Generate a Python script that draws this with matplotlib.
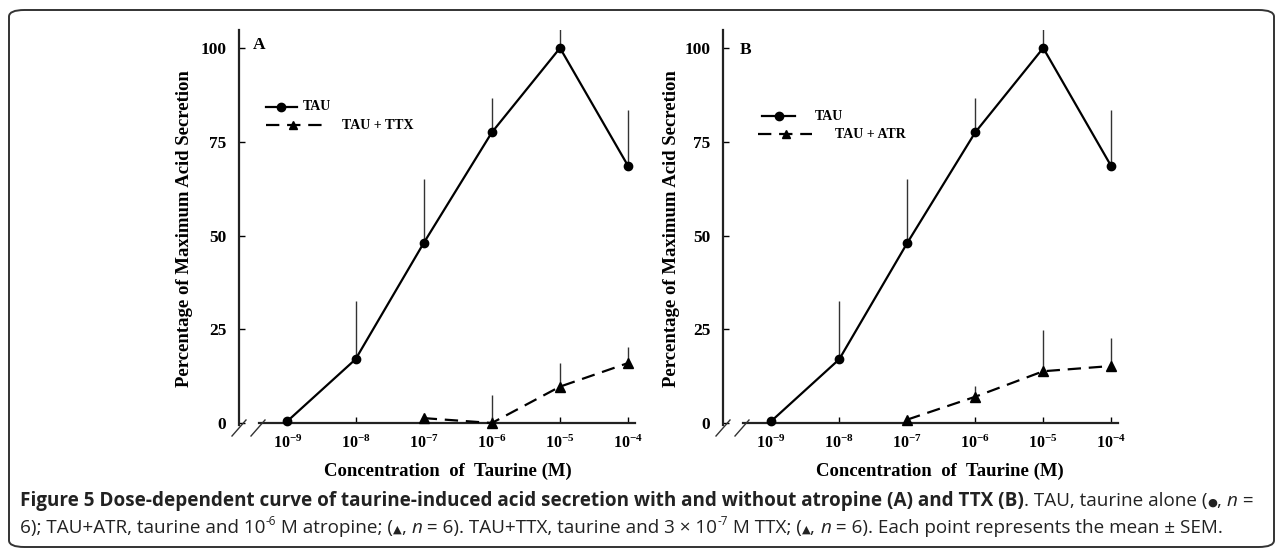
import matplotlib
matplotlib.use('Agg')
import matplotlib.pyplot as plt
import numpy as np
from matplotlib.lines import Line2D
from matplotlib.patches import FancyBboxPatch

# data
conc = [1e-9, 1e-8, 1e-7, 1e-6, 1e-5, 1e-4]
tick_labels = [r'$\mathbf{10^{-9}}$', r'$\mathbf{10^{-8}}$', r'$\mathbf{10^{-7}}$',
               r'$\mathbf{10^{-6}}$', r'$\mathbf{10^{-5}}$', r'$\mathbf{10^{-4}}$']
y_ticks = [0, 25, 50, 75, 100]

tau_mean = [0.5, 17, 48, 77.5, 100, 68.5]
tau_sem = [0, 15.5, 17, 9.3, 5, 15]

conc_blk = [1e-7, 1e-6, 1e-5, 1e-4]
ttx_mean = [1.3, 0, 9.7, 16]
ttx_sem = [0, 7.5, 6.3, 4.4]
atr_mean = [0.9, 7, 13.8, 15.2]
atr_sem = [0, 2.8, 11, 7.4]

W, H = 1282, 553
SERIF = 'Liberation Serif'
SANS = ['Open Sans', 'DejaVu Sans']

plt.rcParams['mathtext.fontset'] = 'custom'
plt.rcParams['mathtext.rm'] = 'Liberation Serif:bold'
plt.rcParams['mathtext.bf'] = 'Liberation Serif:bold'
plt.rcParams['mathtext.it'] = 'Liberation Serif:bold'

fig = plt.figure(figsize=(W / 100, H / 100), dpi=100)


def fx(x):
    return x / W


def fy(y):
    return 1 - y / H


# rounded frame round the whole figure
fig.patches.append(FancyBboxPatch((fx(9), fy(547)), fx(1274 - 9), (547 - 10) / H,
                                  boxstyle='round,pad=0,rounding_size=0.012',
                                  transform=fig.transFigure, fill=False,
                                  edgecolor='#333333', linewidth=1.4))

YLIM = (-2, 104.8)


def panel(left_px, right_px, mean2, sem2, lab2, letter, leg):
    ax = fig.add_axes([fx(left_px), 1 - 430.5 / H, (right_px - left_px) / W, 400.5 / H])
    ax.set_xscale('log')
    ax.set_xlim(10 ** -9.71, 10 ** -3.9)
    ax.set_ylim(*YLIM)
    ax.patch.set_alpha(0)

    ax.errorbar(conc, tau_mean, yerr=[np.zeros(len(tau_sem)), tau_sem], fmt='none',
                ecolor='#333333', elinewidth=1.0, capsize=0, zorder=2)
    ax.errorbar(conc_blk, mean2, yerr=[np.zeros(len(sem2)), sem2], fmt='none',
                ecolor='#333333', elinewidth=1.0, capsize=0, zorder=2)
    ax.plot(conc, tau_mean, color='black', lw=1.6, marker='o', ms=6, zorder=3, clip_on=False)
    ax.plot(conc_blk, mean2, color='black', lw=1.6, ls=(0, (6, 3.5)), marker='^', ms=6.5,
            zorder=3, clip_on=False)

    for s in ['top', 'right']:
        ax.spines[s].set_visible(False)
    ax.spines['left'].set_bounds(-0.5, YLIM[1])
    ax.spines['bottom'].set_position(('data', 0))
    ax.spines['bottom'].set_bounds(10 ** -9.42, 10 ** -3.9)
    for s in ['left', 'bottom']:
        ax.spines[s].set_linewidth(1.6)
        ax.spines[s].set_color('#222222')

    ax.set_xticks(conc)
    ax.set_xticklabels(tick_labels)
    ax.xaxis.set_minor_locator(matplotlib.ticker.NullLocator())
    ax.tick_params(axis='x', direction='in', length=4, width=1, pad=8, labelsize=11.5)
    ax.set_yticks(y_ticks)
    ax.set_yticklabels([str(v) for v in y_ticks], fontfamily=SERIF, fontweight='bold', fontsize=12.5)
    ax.tick_params(axis='y', direction='in', length=4, width=1, pad=9)

    ax.set_xlabel('Concentration  of  Taurine (M)', fontfamily=SERIF, fontweight='bold',
                  fontsize=13.5)
    ax.xaxis.set_label_coords((leg['xlab'] - left_px) / (right_px - left_px), -0.08)
    ax.set_ylabel('Percentage of Maximum Acid Secretion', fontfamily=SERIF, fontweight='bold',
                  fontsize=13.5)
    ax.yaxis.set_label_coords(-(left_px - leg['ylab']) / (right_px - left_px), 0.505)

    fig.text(fx(leg['letter'][0]), fy(leg['letter'][1]), letter, fontfamily=SERIF,
             fontweight='bold', fontsize=12.5, va='center')

    # axis break marks
    for x0 in (left_px - 7, left_px + 12):
        fig.add_artist(Line2D([fx(x0), fx(x0 + 14)], [fy(436), fy(420)], color='#333333',
                              lw=1.0, transform=fig.transFigure))

    # legend
    (a0, a1, am, ay, at), (b0, b1, bm, by, bt) = leg['rows']
    fig.add_artist(Line2D([fx(a0), fx(a1)], [fy(ay), fy(ay)], color='black', lw=1.6,
                          transform=fig.transFigure))
    fig.add_artist(Line2D([fx(am)], [fy(ay)], color='black', marker='o', ms=6,
                          transform=fig.transFigure))
    fig.text(fx(at), fy(ay), 'TAU', fontfamily=SERIF, fontweight='bold', fontsize=10, va='center')
    fig.add_artist(Line2D([fx(b0), fx(b1)], [fy(by), fy(by)], color='black', lw=1.6,
                          ls=(0, (6, 3.5)), transform=fig.transFigure))
    fig.add_artist(Line2D([fx(bm)], [fy(by)], color='black', marker='^', ms=6,
                          transform=fig.transFigure))
    fig.text(fx(bt), fy(by), lab2, fontfamily=SERIF, fontweight='bold', fontsize=10, va='center')
    return ax


panel(239, 635, ttx_mean, ttx_sem, 'TAU + TTX', 'A',
      {'xlab': 448, 'ylab': 193, 'letter': (253, 45),
       'rows': [(266, 297, 281, 107, 303), (266, 322, 293, 125, 342)]})
panel(723, 1118, atr_mean, atr_sem, 'TAU + ATR', 'B',
      {'xlab': 940, 'ylab': 680, 'letter': (740, 50),
       'rows': [(762, 795, 779, 116, 815), (758, 812, 786, 134, 835)]})

# caption, drawn piece by piece
renderer = fig.canvas.get_renderer()
CAP = 13.6


def run(pieces, x, y):
    for txt, kw in pieces:
        style = dict(fontfamily=SANS, fontsize=CAP, va='baseline', color='#222222')
        dy = 0
        if kw.get('sup'):
            style['fontsize'] = CAP * 0.62
            dy = 8
        if kw.get('bold'):
            style['fontweight'] = 'bold'
        if kw.get('it'):
            style['fontstyle'] = 'italic'
        if kw.get('small'):
            style['fontsize'] = CAP * 0.6
        t = fig.text(fx(x), fy(y - dy), txt, **style)
        bb = t.get_window_extent(renderer)
        x += bb.width


line1 = [
    ('Figure 5 Dose-dependent curve of taurine-induced acid secretion with and without '
     'atropine (A) and TTX (B)', {'bold': True}),
    ('. TAU, taurine alone (', {}), ('\u25cf', {'small': True}), (', ', {}), ('n', {'it': True}),
    (' =', {}),
]
line2 = [
    ('6); TAU+ATR, taurine and 10', {}), ('-6', {'sup': True}), (' M atropine; (', {}),
    ('\u25b2', {'small': True}), (', ', {}), ('n', {'it': True}),
    (' = 6). TAU+TTX, taurine and 3 \u00d7 10', {}), ('-7', {'sup': True}),
    (' M TTX; (', {}), ('\u25b2', {'small': True}), (', ', {}), ('n', {'it': True}),
    (' = 6). Each point represents the mean \u00b1 SEM.', {}),
]
run(line1, 20, 506)
run(line2, 20, 533)

fig.savefig('out.png', dpi=100)
